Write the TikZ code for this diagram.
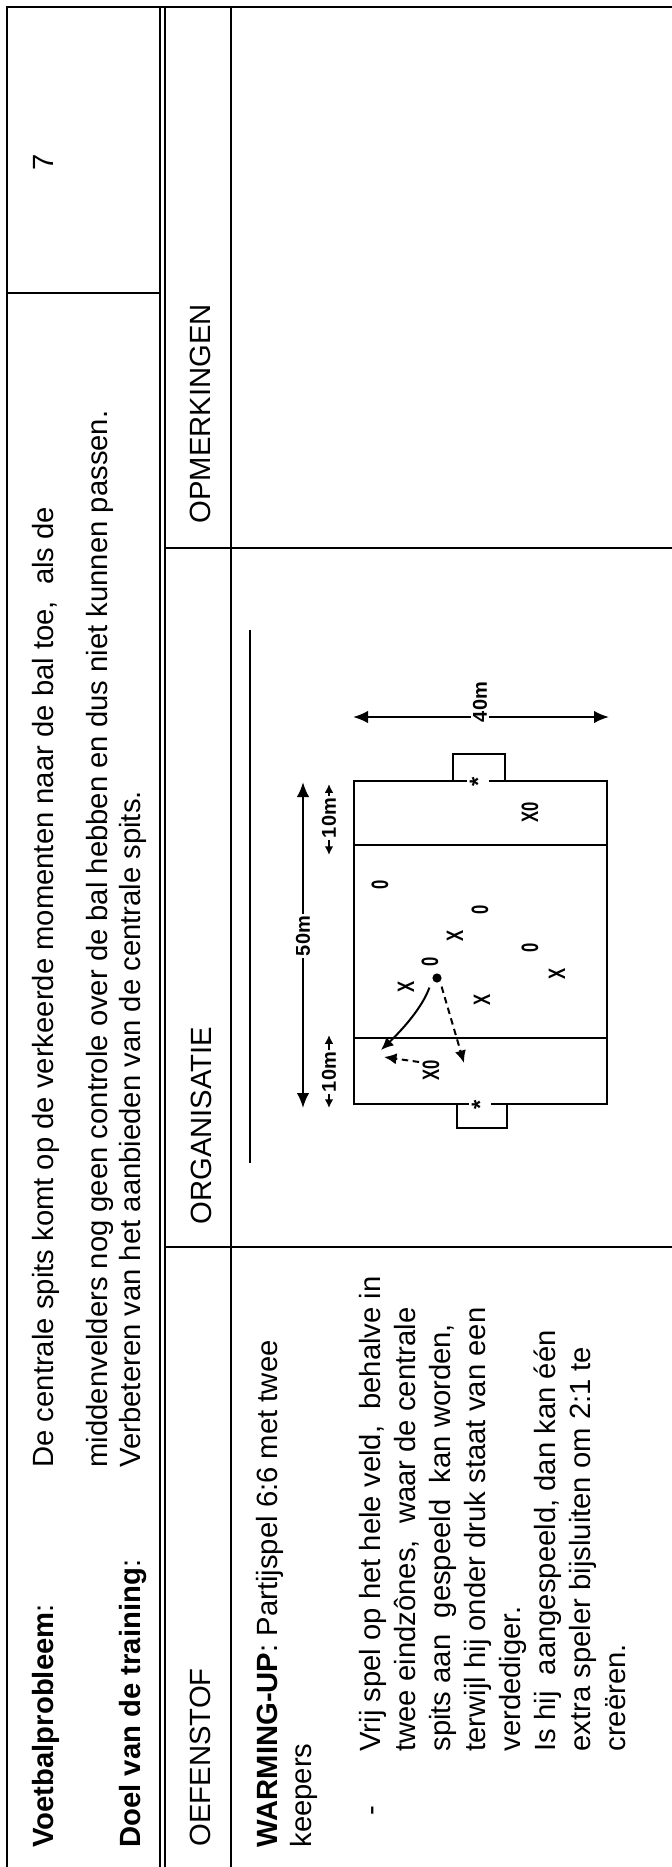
\documentclass[tikz,border=0pt]{standalone}
\usepackage{fontspec}
\setmainfont{Liberation Sans}
\usetikzlibrary{arrows.meta}
\begin{document}
\begin{tikzpicture}[x=0.4pt,y=-0.4pt,
  txt/.style={rotate=90, anchor=base west, inner sep=0pt, font=\fontsize{11.7}{14}\selectfont},
  grid/.style={line width=0.5pt},
  fld/.style={line width=0.8pt},
  lbl/.style={rotate=90, inner sep=0.6pt, fill=white, font=\fontsize{8}{9}\selectfont\bfseries},
  sym/.style={rotate=90, inner sep=0pt, font=\fontsize{9.5}{10}\selectfont\bfseries},
  bigdim/.style={line width=0.8pt, {Latex[length=6pt,width=5pt]}-{Latex[length=6pt,width=5pt]}},
  smalldim/.style={line width=0.7pt, {Latex[length=3.5pt,width=3.5pt]}-{Latex[length=3.5pt,width=3.5pt]}},
  run/.style={line width=0.8pt, -{Latex[length=5pt,width=4.5pt]}},
  pass/.style={line width=0.8pt, dash pattern=on 2.6pt off 1.8pt, -{Latex[length=5pt,width=4.5pt]}}]
\useasboundingbox (0,0) rectangle (672,1867);
\fill[white] (0,0) rectangle (672,1867);
% table frame
\draw[grid] (672,7) -- (7,7) -- (7,1867);
\draw[line width=0.8pt] (160,7) -- (160,1867);
\draw[grid] (165,7) -- (165,1867);
\draw[grid] (231,7) -- (231,1867);
\draw[grid] (7,293) -- (160,293);
\draw[grid] (165,548) -- (672,548);
\draw[grid] (165,1247) -- (672,1247);
% header texts
\node[txt, anchor=base] (nr) at (53,162) {7};
\node[txt] (vp) at (53,1848) {\textbf{Voetbalprobleem}:};
\node[txt] (vpa) at (53,1468) {De centrale spits komt op de verkeerde momenten naar de bal toe,\ \ als de};
\node[txt] (vpb) at (108,1468) {middenvelders nog geen controle over de bal hebben en dus niet kunnen passen.};
\node[txt] (dt) at (140,1848) {\textbf{Doel van de training}:};
\node[txt] (dta) at (140,1468) {Verbeteren van het aanbieden van de centrale spits.};
% column headers
\node[txt] (oef) at (210,1847) {OEFENSTOF};
\node[txt] (org) at (211,1225) {ORGANISATIE};
\node[txt] (opm) at (210,524) {OPMERKINGEN};
% oefenstof text
\node[txt] (wu) at (277,1848) {\textbf{WARMING-UP}: Partijspel 6:6 met twee};
\node[txt] (kp) at (311,1848) {keepers};
\node[txt] (bul) at (380,1816) {-};
\node[txt] (p1) at (380,1752) {Vrij spel op het hele veld,\ \ behalve in};
\node[txt] (p2) at (415,1752) {twee eindzônes,\ \ waar de centrale};
\node[txt] (p3) at (450,1752) {spits aan\ \ gespeeld\ \ kan worden,};
\node[txt] (p4) at (485,1752) {terwijl hij onder druk staat van een};
\node[txt] (p5) at (520,1752) {verdediger.};
\node[txt] (p6) at (555,1752) {Is hij\ \ aangespeeld, dan kan één};
\node[txt] (p7) at (590,1752) {extra speler bijsluiten om 2:1 te};
\node[txt] (p8) at (625,1752) {creëren.};
% organisatie rule
\draw[grid] (250,630) -- (250,1163);
% field
\draw[fld] (354,781) rectangle (607,1104);
\draw[fld] (354,845) -- (607,845);
\draw[fld] (354,1038) -- (607,1038);
\draw[fld] (453,781) -- (453,754) -- (505,754) -- (505,781);
\draw[fld] (457,1104) -- (457,1128) -- (507,1128) -- (507,1104);
\node[sym, fill=white, inner sep=1pt] (gk1) at (478,782) {*};
\node[sym, fill=white, inner sep=1pt] (gk2) at (480,1105) {*};
% dimensions
\coordinate (w1) at (353,717);
\coordinate (w2) at (609,717);
\draw[bigdim] (w1) -- (w2);
\node[lbl] (l40) at (480,702) {40m};
\coordinate (h1) at (303,782);
\coordinate (h2) at (303,1108);
\draw[bigdim] (h1) -- (h2);
\node[lbl] (l50) at (303,936) {50m};
\coordinate (z1) at (329,784);
\coordinate (z2) at (329,855);
\draw[smalldim] (z1) -- (z2);
\node[lbl] (l10a) at (329,818) {10m};
\coordinate (z3) at (329,1035);
\coordinate (z4) at (329,1108);
\draw[smalldim] (z3) -- (z4);
\node[lbl] (l10b) at (329,1072) {10m};
% players
\node[sym] (o1) at (380,885) {\scalebox{0.7}[1]{0}};
\node[sym] (o2) at (480,910) {\scalebox{0.7}[1]{0}};
\node[sym] (o3) at (530,948) {\scalebox{0.7}[1]{0}};
\node[sym] (o4) at (430,962) {\scalebox{0.7}[1]{0}};
\node[sym] (x1) at (455,936) {\scalebox{0.7}[1]{X}};
\node[sym] (x2) at (406,987) {\scalebox{0.7}[1]{X}};
\node[sym] (x3) at (557,974) {\scalebox{0.7}[1]{X}};
\node[sym] (x4) at (482,1000) {\scalebox{0.7}[1]{X}};
\node[sym] (xo1) at (530,812) {\scalebox{0.7}[1]{X0}};
\node[sym] (xo2) at (431,1070) {\scalebox{0.7}[1]{X0}};
\node[circle, fill=black, inner sep=1.3pt] (ball) at (437,978) {};
% actions
\coordinate (t1) at (381,1050);
\coordinate (t2) at (464,1063);
\coordinate (t3) at (384,1057);
\draw[run] (ball.south west) ++(-4,6) .. controls (422,1008) and (402,1030) .. (t1);
\draw[pass] (ball.south east) ++(1,5) -- (t2);
\draw[pass] (xo2.north) ++(-3,-8) -- (t3);
\end{tikzpicture}
\end{document}
